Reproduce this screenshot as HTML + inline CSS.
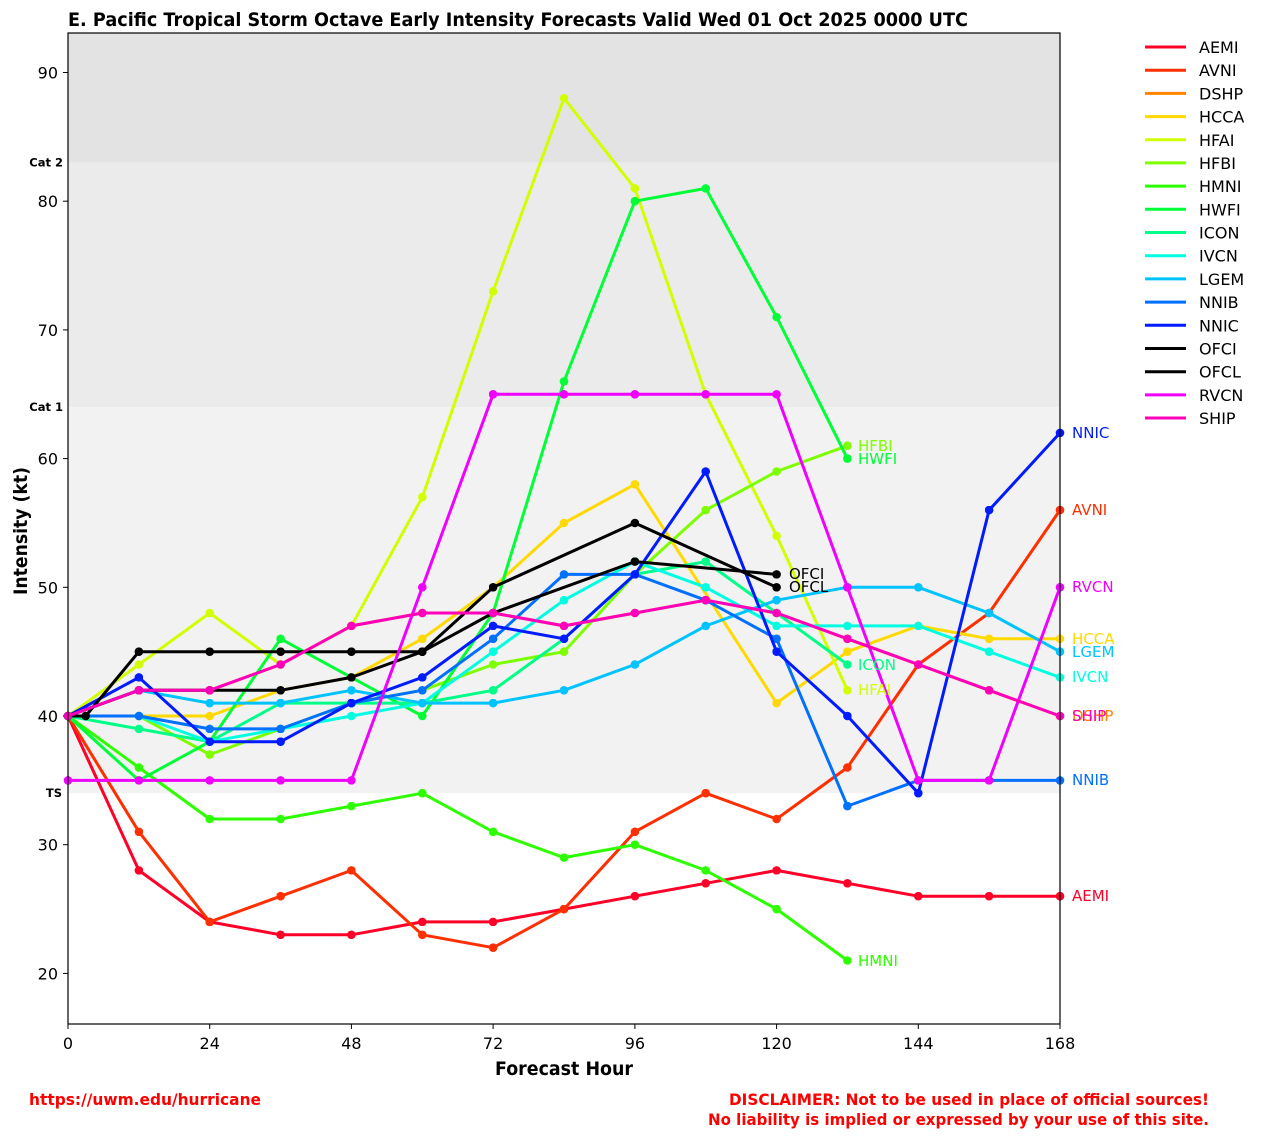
<!DOCTYPE html>
<html><head><meta charset="utf-8"><style>
html,body{margin:0;padding:0;background:#fff;}
svg{display:block;font-family:"DejaVu Sans","Liberation Sans",sans-serif;}
</style></head><body>
<svg width="1263" height="1139" viewBox="0 0 1263 1139" xmlns="http://www.w3.org/2000/svg">
<defs>
<marker id="mAEMI" viewBox="0 0 10 10" refX="5" refY="5" markerWidth="8.6" markerHeight="8.6" markerUnits="userSpaceOnUse"><circle cx="5" cy="5" r="5" fill="#ff0029"/></marker>
<marker id="mAVNI" viewBox="0 0 10 10" refX="5" refY="5" markerWidth="8.6" markerHeight="8.6" markerUnits="userSpaceOnUse"><circle cx="5" cy="5" r="5" fill="#ff2f00"/></marker>
<marker id="mDSHP" viewBox="0 0 10 10" refX="5" refY="5" markerWidth="8.6" markerHeight="8.6" markerUnits="userSpaceOnUse"><circle cx="5" cy="5" r="5" fill="#ff8400"/></marker>
<marker id="mHCCA" viewBox="0 0 10 10" refX="5" refY="5" markerWidth="8.6" markerHeight="8.6" markerUnits="userSpaceOnUse"><circle cx="5" cy="5" r="5" fill="#ffd900"/></marker>
<marker id="mHFAI" viewBox="0 0 10 10" refX="5" refY="5" markerWidth="8.6" markerHeight="8.6" markerUnits="userSpaceOnUse"><circle cx="5" cy="5" r="5" fill="#d2ff00"/></marker>
<marker id="mHFBI" viewBox="0 0 10 10" refX="5" refY="5" markerWidth="8.6" markerHeight="8.6" markerUnits="userSpaceOnUse"><circle cx="5" cy="5" r="5" fill="#7dff00"/></marker>
<marker id="mHMNI" viewBox="0 0 10 10" refX="5" refY="5" markerWidth="8.6" markerHeight="8.6" markerUnits="userSpaceOnUse"><circle cx="5" cy="5" r="5" fill="#2dff00"/></marker>
<marker id="mHWFI" viewBox="0 0 10 10" refX="5" refY="5" markerWidth="8.6" markerHeight="8.6" markerUnits="userSpaceOnUse"><circle cx="5" cy="5" r="5" fill="#00ff37"/></marker>
<marker id="mICON" viewBox="0 0 10 10" refX="5" refY="5" markerWidth="8.6" markerHeight="8.6" markerUnits="userSpaceOnUse"><circle cx="5" cy="5" r="5" fill="#00ff88"/></marker>
<marker id="mIVCN" viewBox="0 0 10 10" refX="5" refY="5" markerWidth="8.6" markerHeight="8.6" markerUnits="userSpaceOnUse"><circle cx="5" cy="5" r="5" fill="#00ffe0"/></marker>
<marker id="mLGEM" viewBox="0 0 10 10" refX="5" refY="5" markerWidth="8.6" markerHeight="8.6" markerUnits="userSpaceOnUse"><circle cx="5" cy="5" r="5" fill="#00c3ff"/></marker>
<marker id="mNNIB" viewBox="0 0 10 10" refX="5" refY="5" markerWidth="8.6" markerHeight="8.6" markerUnits="userSpaceOnUse"><circle cx="5" cy="5" r="5" fill="#0070ff"/></marker>
<marker id="mNNIC" viewBox="0 0 10 10" refX="5" refY="5" markerWidth="8.6" markerHeight="8.6" markerUnits="userSpaceOnUse"><circle cx="5" cy="5" r="5" fill="#001bff"/></marker>
<marker id="mBLK" viewBox="0 0 10 10" refX="5" refY="5" markerWidth="8.6" markerHeight="8.6" markerUnits="userSpaceOnUse"><circle cx="5" cy="5" r="5" fill="#000000"/></marker>
<marker id="mRVCN" viewBox="0 0 10 10" refX="5" refY="5" markerWidth="8.6" markerHeight="8.6" markerUnits="userSpaceOnUse"><circle cx="5" cy="5" r="5" fill="#f000ff"/></marker>
<marker id="mSHIP" viewBox="0 0 10 10" refX="5" refY="5" markerWidth="8.6" markerHeight="8.6" markerUnits="userSpaceOnUse"><circle cx="5" cy="5" r="5" fill="#ff00bb"/></marker>
</defs>

<!-- background bands -->
<rect x="68" y="33" width="992" height="991" fill="#ffffff"/>
<rect x="68" y="33" width="992" height="129.6" fill="#e3e3e3"/>
<rect x="68" y="162.6" width="992" height="244.5" fill="#ebebeb"/>
<rect x="68" y="407.1" width="992" height="386.1" fill="#f2f2f2"/>

<!-- title -->
<text x="68" y="26" font-size="19" font-weight="bold" fill="#000" textLength="900" lengthAdjust="spacingAndGlyphs">E. Pacific Tropical Storm Octave Early Intensity Forecasts Valid Wed 01 Oct 2025 0000 UTC</text>

<!-- y ticks -->
<g stroke="#000" stroke-width="1">
<line x1="63" y1="973.4" x2="68" y2="973.4"/>
<line x1="63" y1="844.7" x2="68" y2="844.7"/>
<line x1="63" y1="716" x2="68" y2="716"/>
<line x1="63" y1="587.3" x2="68" y2="587.3"/>
<line x1="63" y1="458.6" x2="68" y2="458.6"/>
<line x1="63" y1="329.9" x2="68" y2="329.9"/>
<line x1="63" y1="201.2" x2="68" y2="201.2"/>
<line x1="63" y1="72.5" x2="68" y2="72.5"/>
</g>
<g font-size="16" fill="#000" text-anchor="end">
<text x="58" y="979.4">20</text>
<text x="58" y="850.7">30</text>
<text x="58" y="722">40</text>
<text x="58" y="593.3">50</text>
<text x="58" y="464.6">60</text>
<text x="58" y="335.9">70</text>
<text x="58" y="207.2">80</text>
<text x="58" y="78.5">90</text>
</g>
<g font-size="11.5" font-weight="bold" fill="#000" text-anchor="end">
<text x="63" y="166.5">Cat 2</text>
<text x="63" y="411">Cat 1</text>
<text x="62" y="797">TS</text>
</g>

<!-- x ticks -->
<g stroke="#000" stroke-width="1">
<line x1="68" y1="1024" x2="68" y2="1029"/>
<line x1="209.7" y1="1024" x2="209.7" y2="1029"/>
<line x1="351.4" y1="1024" x2="351.4" y2="1029"/>
<line x1="493.1" y1="1024" x2="493.1" y2="1029"/>
<line x1="634.9" y1="1024" x2="634.9" y2="1029"/>
<line x1="776.6" y1="1024" x2="776.6" y2="1029"/>
<line x1="918.3" y1="1024" x2="918.3" y2="1029"/>
<line x1="1060" y1="1024" x2="1060" y2="1029"/>
</g>
<g font-size="16" fill="#000" text-anchor="middle">
<text x="68" y="1049">0</text>
<text x="209.7" y="1049">24</text>
<text x="351.4" y="1049">48</text>
<text x="493.1" y="1049">72</text>
<text x="634.9" y="1049">96</text>
<text x="776.6" y="1049">120</text>
<text x="918.3" y="1049">144</text>
<text x="1060" y="1049">168</text>
</g>

<!-- axis labels -->
<text x="564" y="1075" font-size="19" font-weight="bold" text-anchor="middle" textLength="138" lengthAdjust="spacingAndGlyphs">Forecast Hour</text>
<text transform="translate(27,531) rotate(-90)" font-size="19" font-weight="bold" text-anchor="middle" textLength="128" lengthAdjust="spacingAndGlyphs">Intensity (kt)</text>

<!-- series -->
<g fill="none" stroke-width="3" stroke-linejoin="round" stroke-linecap="butt">
<polyline stroke="#ff0029" marker-start="url(#mAEMI)" marker-mid="url(#mAEMI)" marker-end="url(#mAEMI)" points="68,716 138.9,870.4 209.7,921.9 280.6,934.8 351.4,934.8 422.3,921.9 493.1,921.9 564,909.1 634.9,896.2 705.7,883.3 776.6,870.4 847.4,883.3 918.3,896.2 989.1,896.2 1060,896.2"/>
<polyline stroke="#ff2f00" marker-start="url(#mAVNI)" marker-mid="url(#mAVNI)" marker-end="url(#mAVNI)" points="68,716 138.9,831.8 209.7,921.9 280.6,896.2 351.4,870.4 422.3,934.8 493.1,947.7 564,909.1 634.9,831.8 705.7,793.2 776.6,819 847.4,767.5 918.3,664.5 989.1,613 1060,510.1"/>
<polyline stroke="#ff8400" marker-start="url(#mDSHP)" marker-mid="url(#mDSHP)" marker-end="url(#mDSHP)" points="68,716 138.9,690.3 209.7,690.3 280.6,664.5 351.4,625.9 422.3,613 493.1,613 564,625.9 634.9,613 705.7,600.2 776.6,613 847.4,638.8 918.3,664.5 989.1,690.3 1060,716"/>
<polyline stroke="#ffd900" marker-start="url(#mHCCA)" marker-mid="url(#mHCCA)" marker-end="url(#mHCCA)" points="68,716 138.9,716 209.7,716 280.6,690.3 351.4,677.4 422.3,638.8 493.1,587.3 564,523 634.9,484.3 776.6,703.1 847.4,651.7 918.3,625.9 989.1,638.8 1060,638.8"/>
<polyline stroke="#d2ff00" marker-start="url(#mHFAI)" marker-mid="url(#mHFAI)" marker-end="url(#mHFAI)" points="68,716 138.9,664.5 209.7,613 280.6,664.5 351.4,625.9 422.3,497.2 493.1,291.3 564,98.2 634.9,188.4 705.7,394.3 776.6,535.8 847.4,690.3"/>
<polyline stroke="#7dff00" marker-start="url(#mHFBI)" marker-mid="url(#mHFBI)" marker-end="url(#mHFBI)" points="68,716 138.9,716 209.7,754.6 280.6,728.9 351.4,703.1 422.3,690.3 493.1,664.5 564,651.7 634.9,574.4 705.7,510.1 776.6,471.5 847.4,445.7"/>
<polyline stroke="#2dff00" marker-start="url(#mHMNI)" marker-mid="url(#mHMNI)" marker-end="url(#mHMNI)" points="68,716 138.9,767.5 209.7,819 280.6,819 351.4,806.1 422.3,793.2 493.1,831.8 564,857.6 634.9,844.7 705.7,870.4 776.6,909.1 847.4,960.5"/>
<polyline stroke="#00ff37" marker-start="url(#mHWFI)" marker-mid="url(#mHWFI)" marker-end="url(#mHWFI)" points="68,716 138.9,780.4 209.7,741.7 280.6,638.8 351.4,677.4 422.3,716 493.1,613 564,381.4 634.9,201.2 705.7,188.4 776.6,317 847.4,458.6"/>
<polyline stroke="#00ff88" marker-start="url(#mICON)" marker-mid="url(#mICON)" marker-end="url(#mICON)" points="68,716 138.9,728.9 209.7,741.7 280.6,703.1 351.4,703.1 422.3,703.1 493.1,690.3 564,638.8 634.9,574.4 705.7,561.6 776.6,613 847.4,664.5"/>
<polyline stroke="#00ffe0" marker-start="url(#mIVCN)" marker-mid="url(#mIVCN)" marker-end="url(#mIVCN)" points="68,716 138.9,716 209.7,741.7 280.6,728.9 351.4,716 422.3,703.1 493.1,651.7 564,600.2 634.9,561.6 705.7,587.3 776.6,625.9 847.4,625.9 918.3,625.9 989.1,651.7 1060,677.4"/>
<polyline stroke="#00c3ff" marker-start="url(#mLGEM)" marker-mid="url(#mLGEM)" marker-end="url(#mLGEM)" points="68,716 138.9,690.3 209.7,703.1 280.6,703.1 351.4,690.3 422.3,703.1 493.1,703.1 564,690.3 634.9,664.5 705.7,625.9 776.6,600.2 847.4,587.3 918.3,587.3 989.1,613 1060,651.7"/>
<polyline stroke="#0070ff" marker-start="url(#mNNIB)" marker-mid="url(#mNNIB)" marker-end="url(#mNNIB)" points="68,716 138.9,716 209.7,728.9 280.6,728.9 351.4,703.1 422.3,690.3 493.1,638.8 564,574.4 634.9,574.4 705.7,600.2 776.6,638.8 847.4,806.1 918.3,780.4 989.1,780.4 1060,780.4"/>
<polyline stroke="#001bff" marker-start="url(#mNNIC)" marker-mid="url(#mNNIC)" marker-end="url(#mNNIC)" points="68,716 138.9,677.4 209.7,741.7 280.6,741.7 351.4,703.1 422.3,677.4 493.1,625.9 564,638.8 634.9,574.4 705.7,471.5 776.6,651.7 847.4,716 918.3,793.2 989.1,510.1 1060,432.9"/>
<polyline stroke="#000000" marker-start="url(#mBLK)" marker-mid="url(#mBLK)" marker-end="url(#mBLK)" points="68,716 138.9,690.3 209.7,690.3 280.6,690.3 351.4,677.4 422.3,651.7 493.1,613 634.9,561.6 776.6,574.4"/>
<polyline stroke="#000000" marker-mid="url(#mBLK)" marker-end="url(#mBLK)" points="68,716 85.7,716 138.9,651.7 209.7,651.7 280.6,651.7 351.4,651.7 422.3,651.7 493.1,587.3 634.9,523 776.6,587.3"/>
<polyline stroke="#f000ff" marker-start="url(#mRVCN)" marker-mid="url(#mRVCN)" marker-end="url(#mRVCN)" points="68,780.4 138.9,780.4 209.7,780.4 280.6,780.4 351.4,780.4 422.3,587.3 493.1,394.3 564,394.3 634.9,394.3 705.7,394.3 776.6,394.3 847.4,587.3 918.3,780.4 989.1,780.4 1060,587.3"/>
<polyline stroke="#ff00bb" marker-start="url(#mSHIP)" marker-mid="url(#mSHIP)" marker-end="url(#mSHIP)" points="68,716 138.9,690.3 209.7,690.3 280.6,664.5 351.4,625.9 422.3,613 493.1,613 564,625.9 634.9,613 705.7,600.2 776.6,613 847.4,638.8 918.3,664.5 989.1,690.3 1060,716"/>
</g>

<!-- frame -->
<rect x="68" y="33" width="992" height="991" fill="none" stroke="#000" stroke-width="1.2"/>

<!-- series end labels -->
<g font-size="15">
<text x="1072" y="901" fill="#ff0029">AEMI</text>
<text x="1072" y="515" fill="#ff2f00">AVNI</text>
<text x="1072" y="721" fill="#ff8400">DSHP</text>
<text x="1072" y="644" fill="#ffd900">HCCA</text>
<text x="858" y="695" fill="#d2ff00">HFAI</text>
<text x="858" y="451" fill="#7dff00">HFBI</text>
<text x="858" y="966" fill="#2dff00">HMNI</text>
<text x="858" y="464" fill="#00ff37">HWFI</text>
<text x="858" y="670" fill="#00ff88">ICON</text>
<text x="1072" y="682" fill="#00ffe0">IVCN</text>
<text x="1072" y="657" fill="#00c3ff">LGEM</text>
<text x="1072" y="785" fill="#0070ff">NNIB</text>
<text x="1072" y="438" fill="#001bff">NNIC</text>
<text x="789" y="579" fill="#000">OFCI</text>
<text x="789" y="592" fill="#000">OFCL</text>
<text x="1072" y="592" fill="#f000ff">RVCN</text>
<text x="1072" y="721" fill="#ff00bb">SHIP</text>
</g>

<!-- legend -->
<g stroke-width="3">
<line x1="1145" y1="47" x2="1186" y2="47" stroke="#ff0029"/>
<line x1="1145" y1="70.2" x2="1186" y2="70.2" stroke="#ff2f00"/>
<line x1="1145" y1="93.4" x2="1186" y2="93.4" stroke="#ff8400"/>
<line x1="1145" y1="116.6" x2="1186" y2="116.6" stroke="#ffd900"/>
<line x1="1145" y1="139.8" x2="1186" y2="139.8" stroke="#d2ff00"/>
<line x1="1145" y1="162.9" x2="1186" y2="162.9" stroke="#7dff00"/>
<line x1="1145" y1="186.1" x2="1186" y2="186.1" stroke="#2dff00"/>
<line x1="1145" y1="209.3" x2="1186" y2="209.3" stroke="#00ff37"/>
<line x1="1145" y1="232.5" x2="1186" y2="232.5" stroke="#00ff88"/>
<line x1="1145" y1="255.7" x2="1186" y2="255.7" stroke="#00ffe0"/>
<line x1="1145" y1="278.9" x2="1186" y2="278.9" stroke="#00c3ff"/>
<line x1="1145" y1="302.1" x2="1186" y2="302.1" stroke="#0070ff"/>
<line x1="1145" y1="325.3" x2="1186" y2="325.3" stroke="#001bff"/>
<line x1="1145" y1="348.5" x2="1186" y2="348.5" stroke="#000"/>
<line x1="1145" y1="371.7" x2="1186" y2="371.7" stroke="#000"/>
<line x1="1145" y1="394.9" x2="1186" y2="394.9" stroke="#f000ff"/>
<line x1="1145" y1="418" x2="1186" y2="418" stroke="#ff00bb"/>
</g>
<g font-size="16" fill="#000">
<text x="1199" y="53">AEMI</text>
<text x="1199" y="76.2">AVNI</text>
<text x="1199" y="99.4">DSHP</text>
<text x="1199" y="122.6">HCCA</text>
<text x="1199" y="145.8">HFAI</text>
<text x="1199" y="168.9">HFBI</text>
<text x="1199" y="192.1">HMNI</text>
<text x="1199" y="215.3">HWFI</text>
<text x="1199" y="238.5">ICON</text>
<text x="1199" y="261.7">IVCN</text>
<text x="1199" y="284.9">LGEM</text>
<text x="1199" y="308.1">NNIB</text>
<text x="1199" y="331.3">NNIC</text>
<text x="1199" y="354.5">OFCI</text>
<text x="1199" y="377.7">OFCL</text>
<text x="1199" y="400.9">RVCN</text>
<text x="1199" y="424">SHIP</text>
</g>

<!-- footer -->
<g font-size="16" font-weight="bold" fill="#ff0000">
<text x="29" y="1105" textLength="232" lengthAdjust="spacingAndGlyphs">https://uwm.edu/hurricane</text>
<text x="1209" y="1105" text-anchor="end" textLength="480" lengthAdjust="spacingAndGlyphs">DISCLAIMER: Not to be used in place of official sources!</text>
<text x="1209" y="1125" text-anchor="end" textLength="501" lengthAdjust="spacingAndGlyphs">No liability is implied or expressed by your use of this site.</text>
</g>
</svg>
</body></html>
